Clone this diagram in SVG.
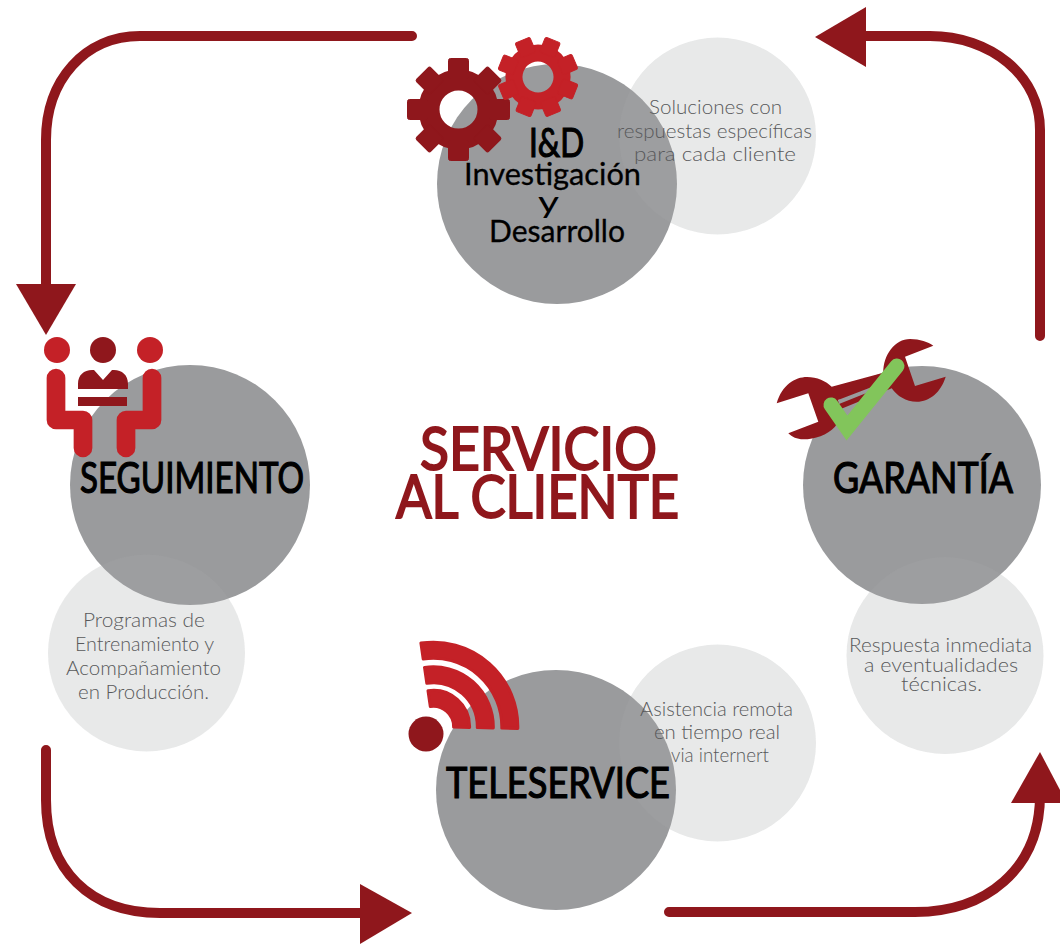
<svg xmlns="http://www.w3.org/2000/svg" xmlns:xlink="http://www.w3.org/1999/xlink" width="1060" height="945" viewBox="0 0 1060 945">
<style>
.big{fill:#9a9b9d}
.lite{fill:#e9eaea}
.veil{fill:#e9eaea;fill-opacity:.045}
.arr{fill:none;stroke:#8f171c;stroke-width:10;stroke-linecap:round}
.head{fill:#8f171c}
.dk{fill:#8f171c}
.rd{fill:#c42127}
text{font-family:"Lato","Liberation Sans",sans-serif}
.t{fill:#58595b;font-size:20px;font-weight:300}
.h{fill:#000;font-size:42px;stroke:#000;stroke-width:1.2px}
.s{fill:#000;font-size:31px;stroke:#000;stroke-width:.3px}
.title{fill:#8f171c;font-size:60px;stroke:#8f171c;stroke-width:2px}
</style>
<defs>
<g id="gear1"><circle r="29.5" fill="none" stroke-width="21"/><g id="t1"><rect x="-10" y="-51" width="20" height="20" rx="2"/><rect x="-10" y="31" width="20" height="20" rx="2"/><rect x="31" y="-10" width="20" height="20" rx="2"/><rect x="-51" y="-10" width="20" height="20" rx="2"/></g><use xlink:href="#t1" transform="rotate(45)"/></g>
<g id="gear2"><circle r="24" fill="none" stroke-width="17"/><g id="t2"><rect x="-8" y="-40" width="16" height="16" rx="2"/><rect x="-8" y="24" width="16" height="16" rx="2"/><rect x="24" y="-8" width="16" height="16" rx="2"/><rect x="-40" y="-8" width="16" height="16" rx="2"/></g><use xlink:href="#t2" transform="rotate(45)"/></g>
</defs>
<rect width="1060" height="945" fill="#fff"/>
<g id="connectors">
<path class="arr" d="M412 36H140C85 36 46 80 46 140V290"/>
<path class="head" d="M16 284H76L46 335Z"/>
<path class="arr" d="M1040 336V130C1040 75 990 36 930 36H860"/>
<path class="head" d="M866 7V67L815 37Z"/>
<path class="arr" d="M46 750V800C46 870 90 913 160 913H365"/>
<path class="head" d="M360 884V944L412 913Z"/>
<path class="arr" d="M669 912H915C985 912 1040 870 1040 795"/>
<path class="head" d="M1011 803H1060V790L1040 752Z"/>
</g>
<g id="node-id">
<circle class="lite" cx="717.5" cy="136" r="98.5"/>
<circle class="big" cx="557" cy="184" r="120"/>
<circle class="veil" cx="717.5" cy="136" r="98.5"/>
<use xlink:href="#gear1" transform="translate(458.5 109.5)" stroke="#8f171c" fill="#8f171c"/>
<use xlink:href="#gear2" transform="translate(538 77) rotate(22)" stroke="#c42127" fill="#c42127"/>
<text class="h" style="font-size:40px" x="529" y="157" textLength="55" lengthAdjust="spacingAndGlyphs">I&amp;D</text>
<text class="s" x="464" y="185" textLength="177" lengthAdjust="spacingAndGlyphs">Investigación</text>
<text class="s" x="538" y="213" textLength="21" lengthAdjust="spacingAndGlyphs" style="stroke-width:0">y</text>
<text class="s" x="489" y="242" textLength="136" lengthAdjust="spacingAndGlyphs">Desarrollo</text>
<text class="t" x="649" y="114" textLength="133" lengthAdjust="spacingAndGlyphs">Soluciones con</text>
<text class="t" x="617" y="138" textLength="195" lengthAdjust="spacingAndGlyphs">respuestas específicas</text>
<text class="t" x="634" y="161" textLength="162" lengthAdjust="spacingAndGlyphs">para cada cliente</text>
</g>
<g id="node-seguimiento">
<circle class="lite" cx="146.500" cy="653" r="98.5"/>
<circle class="big" cx="190" cy="485" r="120"/>
<circle class="veil" cx="146.500" cy="653" r="98.5"/>
<g class="rd"><circle cx="57" cy="350" r="13"/><circle cx="150" cy="350" r="13"/></g>
<g class="dk"><circle cx="103" cy="350" r="13"/>
<path d="M78 389V384C78 375 84 370 92 370H94L103 380L112 370H114C122 370 128 375 128 384V389Z"/>
<rect x="78" y="397" width="49" height="9"/></g>
<path d="M56 378V420H83V448M152 378V420H126V448" fill="none" stroke="#c42127" stroke-width="18.7" stroke-linecap="round" stroke-linejoin="round"/>
<text class="h" x="80" y="493" textLength="224" lengthAdjust="spacingAndGlyphs">SEGUIMIENTO</text>
<text class="t" x="83" y="627" textLength="122" lengthAdjust="spacingAndGlyphs">Programas de</text>
<text class="t" x="75" y="651" textLength="139" lengthAdjust="spacingAndGlyphs">Entrenamiento y</text>
<text class="t" x="66" y="675" textLength="155" lengthAdjust="spacingAndGlyphs">Acompañamiento</text>
<text class="t" x="78" y="699" textLength="131" lengthAdjust="spacingAndGlyphs">en Producción.</text>
</g>
<g id="node-garantia">
<circle class="lite" cx="945" cy="655.500" r="98.5"/>
<circle class="big" cx="922" cy="485" r="119"/>
<circle class="veil" cx="945" cy="655.500" r="98.5"/>
<path class="dk" fill-rule="evenodd" d="M776.7 403.3C782 385 795 377 807 377C817 377 826 381 831.7 386.7L883.3 372.7C883 355 895 339 910 339C920 339 928 342 933.3 345.7L905 356.7L915 386L945.7 376.7C941 392 930 401.700 916.7 401.700C906 401.700 897 396 891.7 388.3L838.3 410C842 416 838 422 835 426.7C827 435 815 439.3 803.3 439.3C797 439.3 792 437 788.3 433.3L818.3 421.7L808.3 393.3ZM838 400L877 385L879 388L839 404Z"/>
<path d="M831 405L847 428L897 366" fill="none" stroke="#82c55b" stroke-width="15" stroke-linecap="round" stroke-miterlimit="10"/>
<text class="h" x="833" y="493" textLength="180" lengthAdjust="spacingAndGlyphs">GARANTÍA</text>
<text class="t" x="849" y="652" textLength="183" lengthAdjust="spacingAndGlyphs">Respuesta inmediata</text>
<text class="t" x="864" y="672" textLength="154" lengthAdjust="spacingAndGlyphs">a eventualidades</text>
<text class="t" x="901" y="691" textLength="81" lengthAdjust="spacingAndGlyphs">técnicas.</text>
</g>
<g id="node-teleservice">
<circle class="lite" cx="717.5" cy="743" r="98.5"/>
<circle class="big" cx="556" cy="790" r="120"/>
<circle class="veil" cx="717.5" cy="743" r="98.5"/>
<circle class="dk" cx="426" cy="734" r="17.5"/>
<path d="M420.9 643.1A84.5 84.5 0 0 1 517.8 728.4L501.8 728.1A68.5 68.5 0 0 0 423.2 659ZM424.5 667.4A60 60 0 0 1 493.3 727.9L477.3 727.6A44 44 0 0 0 426.8 683.2ZM428 690.8A36.3 36.3 0 0 1 469.6 727.4L453.6 727.1A20.3 20.3 0 0 0 430.3 706.6Z" fill="#c42127" stroke="#c42127" stroke-width="3" stroke-linejoin="round"/>
<text class="h" x="446" y="798" textLength="224" lengthAdjust="spacingAndGlyphs">TELESERVICE</text>
<text class="t" x="640" y="716" textLength="153" lengthAdjust="spacingAndGlyphs">Asistencia remota</text>
<text class="t" x="654" y="739" textLength="126" lengthAdjust="spacingAndGlyphs">en tiempo real</text>
<text class="t" x="671" y="762" textLength="98" lengthAdjust="spacingAndGlyphs">via internert</text>
</g>
<g id="title">
<text class="title" x="420" y="470" textLength="237" lengthAdjust="spacingAndGlyphs">SERVICIO</text>
<text class="title" x="396" y="518" textLength="283" lengthAdjust="spacingAndGlyphs">AL CLIENTE</text>
</g>
</svg>
